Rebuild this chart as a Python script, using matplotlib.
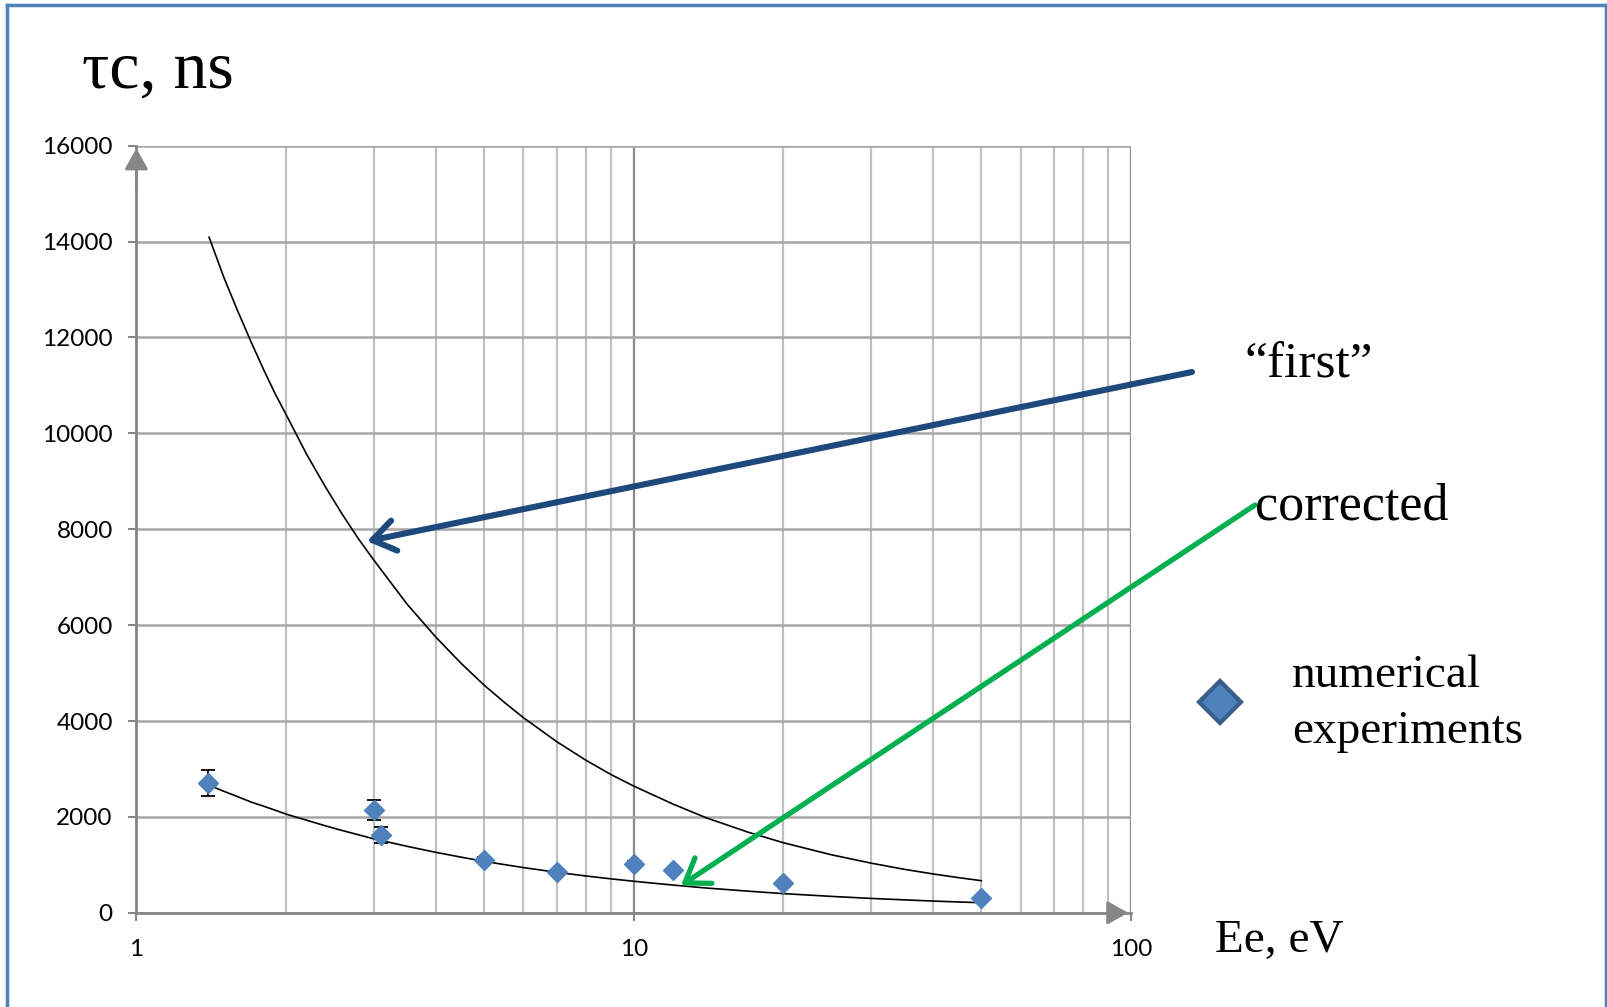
import matplotlib.pyplot as plt
from matplotlib.lines import Line2D
from matplotlib.ticker import LogLocator, FixedLocator, NullFormatter

plt.rcParams['font.family'] = ['Lato', 'DejaVu Sans']

# numerical experiments (energy in eV, time in ns, error)
energy = [1.39, 3.0, 3.11, 5.0, 7.0, 10.0, 12.0, 20.0, 50.0]
tau = [2710, 2150, 1630, 1100, 860, 1020, 900, 620, 300]
tau_err = [270, 210, 165, 60, 40, 60, 40, 30, 30]

# trend curves
curve_x = [1.4, 1.5, 1.6, 1.7, 1.8, 1.9, 2, 2.2, 2.4, 2.6, 2.8, 3, 3.5, 4, 4.5, 5,
           5.5, 6, 7, 8, 9, 10, 12, 14, 17, 20, 25, 30, 35, 40, 45, 50]
first_y = [14090, 13245, 12540, 11910, 11340, 10830, 10390, 9560, 8880, 8295,
           7790, 7360, 6440, 5750, 5200, 4750, 4385, 4070, 3570, 3187, 2884,
           2643, 2267, 1980, 1680, 1461, 1209, 1036, 907, 810, 733, 670]
corrected_y = [2660, 2533, 2420, 2310, 2225, 2141, 2058, 1930, 1813, 1713,
               1625, 1543, 1387, 1261, 1160, 1073, 1005, 943, 845, 769, 708,
               658, 578, 517, 451, 400, 342, 300, 270, 245, 226, 210]

y_ticks = [0, 2000, 4000, 6000, 8000, 10000, 12000, 14000, 16000]
x_ticks = [1, 10, 100]

W, H = 1608, 1007
fig = plt.figure(figsize=(W / 100, H / 100), dpi=100)
ax = fig.add_axes([136.4 / W, 1 - 912.8 / H, (1131 - 136.4) / W, (912.8 - 145.6) / H])

ax.set_xscale('log')
ax.set_xlim(1, 100)
ax.set_ylim(0, 16000)

# grid
grid_minor = '#bfbfbf'
grid_major = '#8c8c8c'
ax.xaxis.set_minor_locator(LogLocator(base=10, subs=range(2, 10)))
ax.xaxis.set_minor_formatter(NullFormatter())
ax.xaxis.set_major_locator(FixedLocator(x_ticks))
ax.set_xticks(x_ticks)
ax.set_xticklabels(['1', '10', '100'])
ax.set_yticks(y_ticks)
ax.set_yticklabels([str(v) for v in y_ticks])
ax.grid(True, which='minor', axis='x', color=grid_minor, lw=1.6)
ax.grid(True, which='major', axis='x', color=grid_major, lw=1.6)
ax.grid(True, which='major', axis='y', color='#a6a6a6', lw=1.8)
ax.set_axisbelow(True)

ax.tick_params(axis='both', which='major', direction='out', length=6,
               width=1.5, color='#868686', labelsize=17.5, labelcolor='black')
ax.tick_params(axis='y', pad=11)
ax.tick_params(axis='x', pad=13)
ax.tick_params(axis='x', which='minor', length=0)

for s in ['top', 'right']:
    ax.spines[s].set_visible(False)
ax.spines['left'].set_color('#868686')
ax.spines['bottom'].set_color('#868686')
ax.spines['left'].set_linewidth(2)
ax.spines['bottom'].set_linewidth(2)

# arrow heads on the axes
ax.annotate('', xy=(1, 16000), xytext=(1, 15000),
            arrowprops=dict(arrowstyle='-|>,head_length=0.8,head_width=0.45',
                            color='#868686', lw=2, mutation_scale=16),
            annotation_clip=False)
ax.annotate('', xy=(100, 0), xytext=(90, 0),
            arrowprops=dict(arrowstyle='-|>,head_length=0.8,head_width=0.45',
                            color='#868686', lw=2, mutation_scale=16),
            annotation_clip=False)

# curves
ax.plot(curve_x, first_y, color='black', lw=1.2)
ax.plot(curve_x, corrected_y, color='black', lw=1.2)

# data points
ax.errorbar(energy, tau, yerr=tau_err, fmt='none', ecolor='black',
            elinewidth=1.3, capsize=5, capthick=1.3, zorder=3)
ax.plot(energy, tau, linestyle='none', marker='D', ms=10,
        color='#4f81bd', mec='#4f81bd', zorder=4)

# annotation arrows
ax.annotate('', xy=(2.91, 7750), xycoords='data',
            xytext=(1192 / W, 1 - 372 / H), textcoords='figure fraction',
            arrowprops=dict(arrowstyle='->,head_length=0.8,head_width=0.55',
                            color='#1f497d', lw=4.4, mutation_scale=20,
                            shrinkA=0, shrinkB=0),
            annotation_clip=False)
ax.annotate('', xy=(12.45, 570), xycoords='data',
            xytext=(1255 / W, 1 - 505 / H), textcoords='figure fraction',
            arrowprops=dict(arrowstyle='->,head_length=0.8,head_width=0.55',
                            color='#00b050', lw=3.8, mutation_scale=20,
                            shrinkA=0, shrinkB=0),
            annotation_clip=False)

# texts
serif = ['Liberation Serif', 'DejaVu Serif']
fig.text(82 / W, 1 - 88 / H, 'τc, ns', family=serif, fontsize=49, va='baseline')
fig.text(1245 / W, 1 - 377 / H, '\u201cfirst\u201d', family=serif, fontsize=37, va='baseline')
fig.text(1255 / W, 1 - 520 / H, 'corrected', family=serif, fontsize=37.5, va='baseline')
fig.text(1292 / W, 1 - 687 / H, 'numerical', family=serif, fontsize=34, va='baseline')
fig.text(1292 / W, 1 - 743 / H, 'experiments', family=serif, fontsize=34, va='baseline')
fig.text(1215 / W, 1 - 952 / H, 'Ee, eV', family=serif, fontsize=34, va='baseline')

# legend marker
fig.add_artist(Line2D([1220 / W], [1 - 702 / H], marker='D', ms=21,
                      color='#4f81bd', mec='#385d8a', mew=3, linestyle='none'))

# blue frame
frame = '#4f81bd'
fig.add_artist(Line2D([7 / W, 1606 / W], [1 - 5 / H, 1 - 5 / H], color=frame, lw=2.5))
fig.add_artist(Line2D([7 / W, 7 / W], [0, 1 - 5 / H], color=frame, lw=2.5))
fig.add_artist(Line2D([1606 / W, 1606 / W], [0, 1 - 5 / H], color=frame, lw=2.5))

plt.savefig('out.png', dpi=100)
